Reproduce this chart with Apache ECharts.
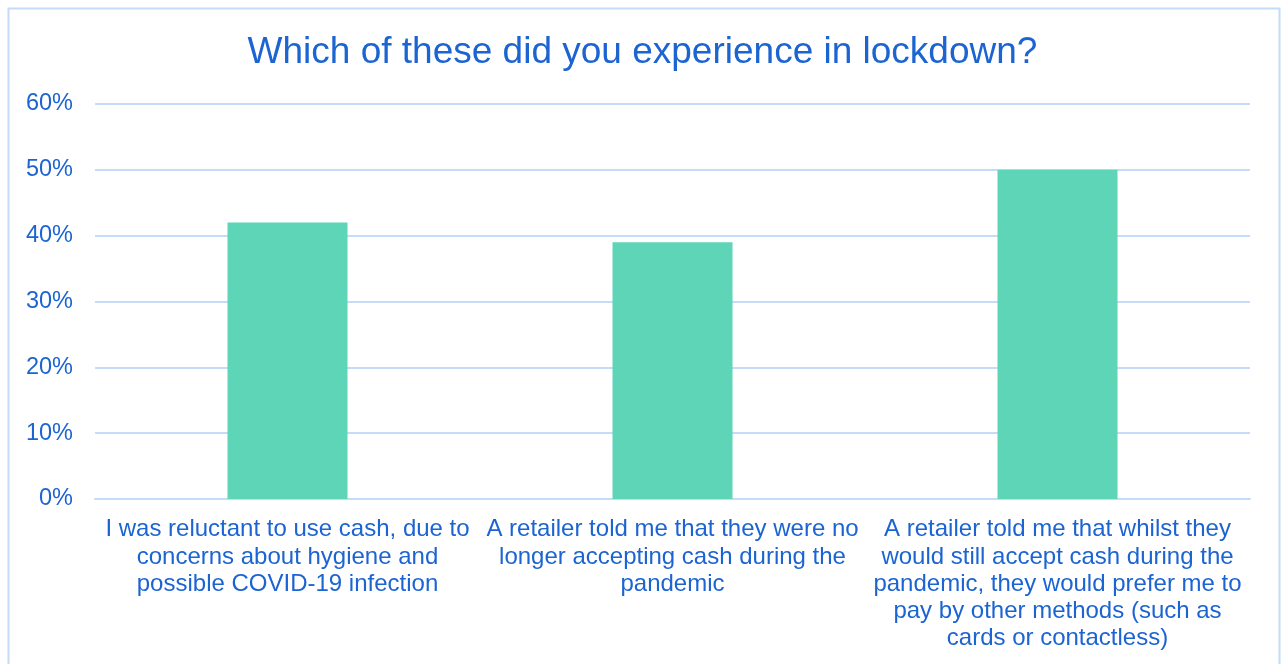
<!DOCTYPE html>
<html><head><meta charset="utf-8">
<script src="https://cdn.jsdelivr.net/npm/echarts@6/dist/echarts.min.js"></script>
<style>html,body{margin:0;padding:0;background:#fff}#c{width:1285px;height:664px}</style>
</head><body><div id="c"></div>
<script>
const title = 'Which of these did you experience in lockdown?';
const categories = [
  'I was reluctant to use cash, due to\nconcerns about hygiene and\npossible COVID-19 infection',
  'A retailer told me that they were no\nlonger accepting cash during the\npandemic',
  'A retailer told me that whilst they\nwould still accept cash during the\npandemic, they would prefer me to\npay by other methods (such as\ncards or contactless)'
];
const values = [42, 39, 50];
const yTicks = { min: 0, max: 60, interval: 10 };

const textColor = '#1B64D2';
const gridColor = '#C6DBF7';
const chart = echarts.init(document.getElementById('c'), null, {renderer: 'canvas'});
chart.setOption({
  animation: false,
  backgroundColor: '#fff',
  graphic: [{
    type: 'rect', silent: true,
    shape: {x: 8.5, y: 8.5, width: 1271, height: 700},
    style: {fill: 'none', stroke: gridColor, lineWidth: 2}
  }],
  title: {
    text: title, left: 'center', top: 29,
    textStyle: {color: textColor, fontFamily: 'Liberation Sans, Arial, sans-serif', fontSize: 37, fontWeight: 'normal'}
  },
  grid: {left: 95, right: 35, top: 104, bottom: 165, containLabel: false},
  xAxis: {
    type: 'category', data: categories,
    axisLine: {show: true, lineStyle: {color: gridColor, width: 2}},
    axisTick: {show: false},
    axisLabel: {interval: 0, color: textColor, fontFamily: 'Liberation Sans, Arial, sans-serif', fontSize: 24, lineHeight: 27.3, margin: 17, align: 'center'}
  },
  yAxis: {
    type: 'value', min: yTicks.min, max: yTicks.max, interval: yTicks.interval,
    axisLine: {show: false}, axisTick: {show: false},
    splitLine: {lineStyle: {color: gridColor, width: 2}},
    axisLabel: {formatter: '{value}%', color: textColor, fontFamily: 'Liberation Sans, Arial, sans-serif', fontSize: 23.5, margin: 22, verticalAlign: 'middle', padding: [4, 0, 0, 0]}
  },
  series: [{
    type: 'bar', data: values, barWidth: 120,
    itemStyle: {color: '#5ED5B7'}
  }]
});
</script></body></html>
